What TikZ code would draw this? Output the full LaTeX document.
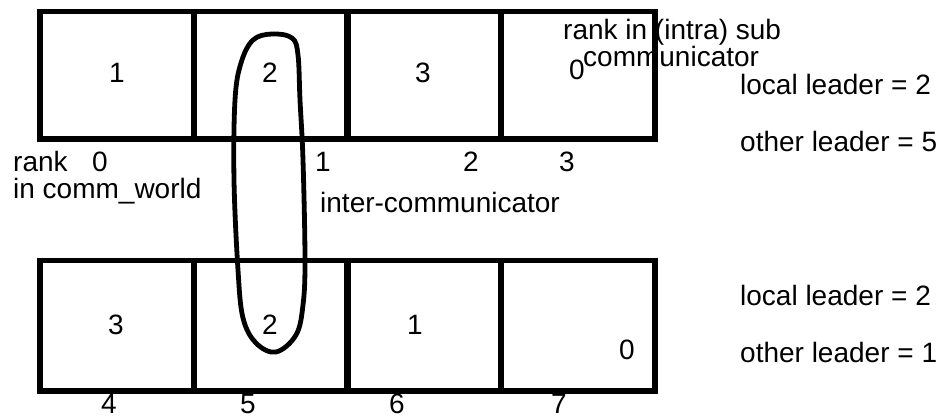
\documentclass[tikz,border=0pt]{standalone}
\usepackage{fontspec}
\setmainfont{Liberation Sans}
\begin{document}
\begin{tikzpicture}[x=1pt,y=-1pt,
  cell/.style={draw, line width=5.5pt, rectangle, minimum width=154pt, inner sep=0pt},
  toprow/.style={cell, minimum height=127.5pt},
  botrow/.style={cell, minimum height=130.5pt},
  lbl/.style={inner sep=0pt, font=\fontsize{28}{30}\selectfont, anchor=base},
  lblw/.style={lbl, anchor=base west},
  loopline/.style={line width=4.8pt}]
\useasboundingbox (0,0) rectangle (943,419);
% texts top row
\node[lbl] (t1) at (117,83) {1};
\node[lbl] (t2) at (270,83) {2};
\node[lbl] (t3) at (423,83) {3};
\node[lbl] (t0) at (577,80) {0};
\node[lblw] (subA) at (563,40) {rank in (intra) sub};
\node[lblw] (subB) at (583,67) {communicator};
\node[lblw] (ll1) at (740,95) {local leader = 2};
\node[lblw] (ol1) at (740,152) {other leader = 5};
% world ranks top
\node[lblw] (rk) at (13,172) {rank};
\node[lbl] (w0) at (100,172) {0};
\node[lblw] (icw) at (13,199) {in comm\_world};
\node[lbl] (w1) at (323,172) {1};
\node[lbl] (w2) at (471,172) {2};
\node[lbl] (w3) at (567,172) {3};
\node[lblw] (inter) at (320,213) {inter-communicator};
% texts bottom row
\node[lbl] (b3) at (116,335) {3};
\node[lbl] (b2) at (270,335) {2};
\node[lbl] (b1) at (415,335) {1};
\node[lbl] (b0) at (627,360) {0};
\node[lblw] (ll2) at (740,306) {local leader = 2};
\node[lblw] (ol2) at (740,363) {other leader = 1};
\node[lbl] (w4) at (109,414) {4};
\node[lbl] (w5) at (248,414) {5};
\node[lbl] (w6) at (397,414) {6};
\node[lbl] (w7) at (559,414) {7};
% loop
\draw[loopline] plot[smooth cycle, tension=0.6] coordinates {
  (272,34) (292,38) (298,55) (300,100) (303,160) (305,260) (303,305)
  (296,335) (276,352) (256,343) (243,318) (238,270) (234,180) (235,100)
  (241,63) (253,40)};
% cells
\node[toprow] (c1) at (117,75.25) {};
\node[toprow] (c2) at (271,75.25) {};
\node[toprow] (c3) at (424,75.25) {};
\node[toprow] (c4) at (578,75.25) {};
\node[botrow] (d1) at (117,325.75) {};
\node[botrow] (d2) at (271,325.75) {};
\node[botrow] (d3) at (424,325.75) {};
\node[botrow] (d4) at (578,325.75) {};
\end{tikzpicture}
\end{document}
